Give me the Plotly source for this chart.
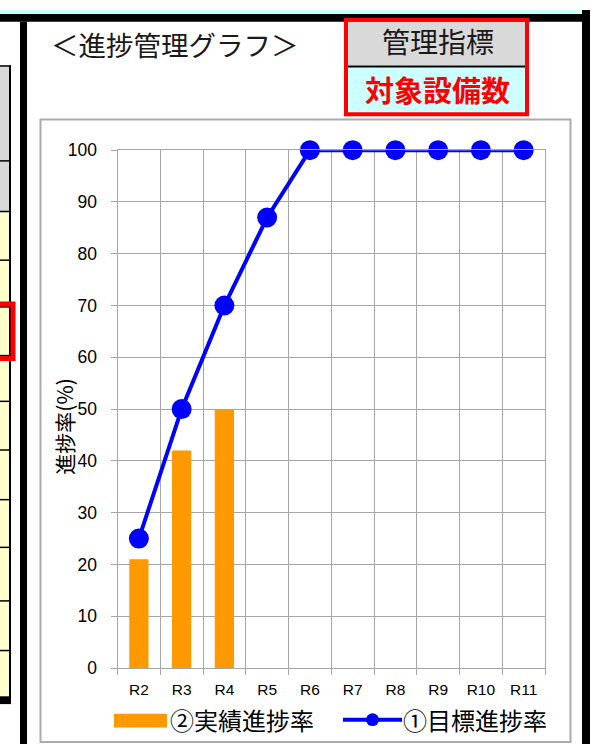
import plotly.graph_objects as go

# ---- data ----
categories = ["R2", "R3", "R4", "R5", "R6", "R7", "R8", "R9", "R10", "R11"]
actual_rate = [21, 42, 50, None, None, None, None, None, None, None]   # ②実績進捗率
target_rate = [25, 50, 70, 87, 100, 100, 100, 100, 100, 100]         # ①目標進捗率
y_ticks = [0, 10, 20, 30, 40, 50, 60, 70, 80, 90, 100]
name_actual = "②実績進捗率"
name_target = "①目標進捗率"
title_text = "＜進捗管理グラフ＞"
header_text = "管理指標"
index_text = "対象設備数"
ytitle_text = "進捗率(%)"

W, H = 605, 754
def px(x): return x / W
def py(y): return 1 - y / H

CJK = "Noto Sans CJK JP"
LAT = "Liberation Sans, Arial, Noto Sans CJK JP"
ORANGE = "#FF9900"
BLUE = "#0000FF"
GRID = "#A6A6A6"

fig = go.Figure()
fig.add_trace(go.Bar(x=categories, y=actual_rate, name=name_actual,
                     marker=dict(color=ORANGE, line=dict(width=0)), width=0.45,
                     showlegend=False))
fig.add_trace(go.Scatter(x=categories, y=target_rate, name=name_target,
                         mode="lines+markers", line=dict(color=BLUE, width=4),
                         marker=dict(color=BLUE, size=20), cliponaxis=False,
                         showlegend=False))

shapes = []
def rect(x0, y0, x1, y1, fill=None, line=None, lw=0, layer="above"):
    shapes.append(dict(type="rect", xref="paper", yref="paper",
                       x0=px(x0), x1=px(x1), y0=py(y1), y1=py(y0),
                       fillcolor=fill if fill else "rgba(0,0,0,0)",
                       line=dict(color=line if line else "rgba(0,0,0,0)", width=lw),
                       layer=layer))
def hline(x0, x1, y, color="black", lw=1):
    shapes.append(dict(type="line", xref="paper", yref="paper",
                       x0=px(x0), x1=px(x1), y0=py(y), y1=py(y),
                       line=dict(color=color, width=lw)))

# top band
rect(0, 0, 582, 4, fill="#CCFFFF")
rect(0, 4, 590, 12, fill="black")
# right and left thick bars
rect(582, 0, 590, 754, fill="black")
rect(20, 12, 27, 754, fill="black")

# left spreadsheet fragment
rect(0, 57, 9, 207, fill="#D9D9D9")
rect(0, 207, 9, 707, fill="#FFFFCC")
hline(0, 11, 57.5, lw=1.5)
for yy in [155, 207, 257, 305, 355, 402, 452, 503, 552, 607, 658]:
    hline(0, 11, yy, lw=1.5)
rect(0, 705, 11, 713, fill="black")
rect(9, 57, 11, 713, fill="black")
rect(-5, 302, 13, 358, line="#FF0000", lw=5)

# header box (管理指標 / 対象設備数)
rect(346, 12, 527, 57, fill="#D9D9D9")
rect(346, 58, 527, 106, fill="#CCFFFF")
hline(346, 527, 58, lw=2)
rect(346, 10, 527, 107, line="#FF0000", lw=4)

# chart border
rect(40.5, 112.5, 570.5, 752, line="#ABABAB", lw=2)

# custom legend
rect(114, 723, 167, 737, fill=ORANGE)
shapes.append(dict(type="line", xref="paper", yref="paper",
                   x0=px(343), x1=px(402), y0=py(729), y1=py(729),
                   line=dict(color=BLUE, width=4)))
shapes.append(dict(type="circle", xref="paper", yref="paper",
                   x0=px(366), x1=px(379), y0=py(735.5), y1=py(722.5),
                   fillcolor=BLUE, line=dict(color=BLUE, width=0)))

annotations = [
    dict(text=title_text, x=px(49), y=py(35), xanchor="left", yanchor="middle",
         font=dict(family=CJK, size=27.5, color="#1a1a1a")),
    dict(text=header_text, x=px(438), y=py(32), xanchor="center", yanchor="middle",
         font=dict(family=CJK, size=28, color="#1a1a1a")),
    dict(text="<b>" + index_text + "</b>", x=px(437.5), y=py(81), xanchor="center",
         yanchor="middle", font=dict(family=CJK, size=29, color="#FF0000")),
    dict(text=ytitle_text, x=px(64), y=py(428), xanchor="center", yanchor="middle",
         textangle=-90, font=dict(family=CJK, size=21, color="black")),
    dict(text=name_actual, x=px(168), y=py(729), xanchor="left", yanchor="middle",
         font=dict(family=CJK, size=24, color="black")),
    dict(text=name_target, x=px(401), y=py(729), xanchor="left", yanchor="middle",
         font=dict(family=CJK, size=24, color="black")),
]
for a in annotations:
    a.update(xref="paper", yref="paper", showarrow=False)

fig.update_layout(
    width=W, height=H, margin=dict(l=0, r=0, t=0, b=0),
    paper_bgcolor="white", plot_bgcolor="rgba(0,0,0,0)",
    font=dict(family=LAT, color="black"),
    shapes=shapes, annotations=annotations, showlegend=False,
    bargap=0.55,
    xaxis=dict(domain=[px(117.5), px(545)], type="category", range=[-0.5, 9.5],
               tickson="boundaries", ticks="outside", ticklen=6, tickcolor=GRID,
               showgrid=True, gridcolor=GRID, gridwidth=1,
               showline=True, linecolor=GRID, linewidth=1, mirror=True,
               tickfont=dict(size=15.5, family=LAT, color="black"),
               ticklabelstandoff=7, fixedrange=True),
    yaxis=dict(domain=[py(676), py(144)], range=[0, 100], tickvals=y_ticks,
               ticks="outside", ticklen=6, tickcolor=GRID,
               showgrid=True, gridcolor=GRID, gridwidth=1, zeroline=False,
               showline=True, linecolor=GRID, linewidth=1, mirror=True,
               tickfont=dict(size=17.5, family=LAT, color="black"),
               ticklabelstandoff=10, fixedrange=True),
)

fig.write_html("out.html", config={"displayModeBar": False},
               post_script="document.body.style.margin='0';document.body.style.overflow='hidden';")
